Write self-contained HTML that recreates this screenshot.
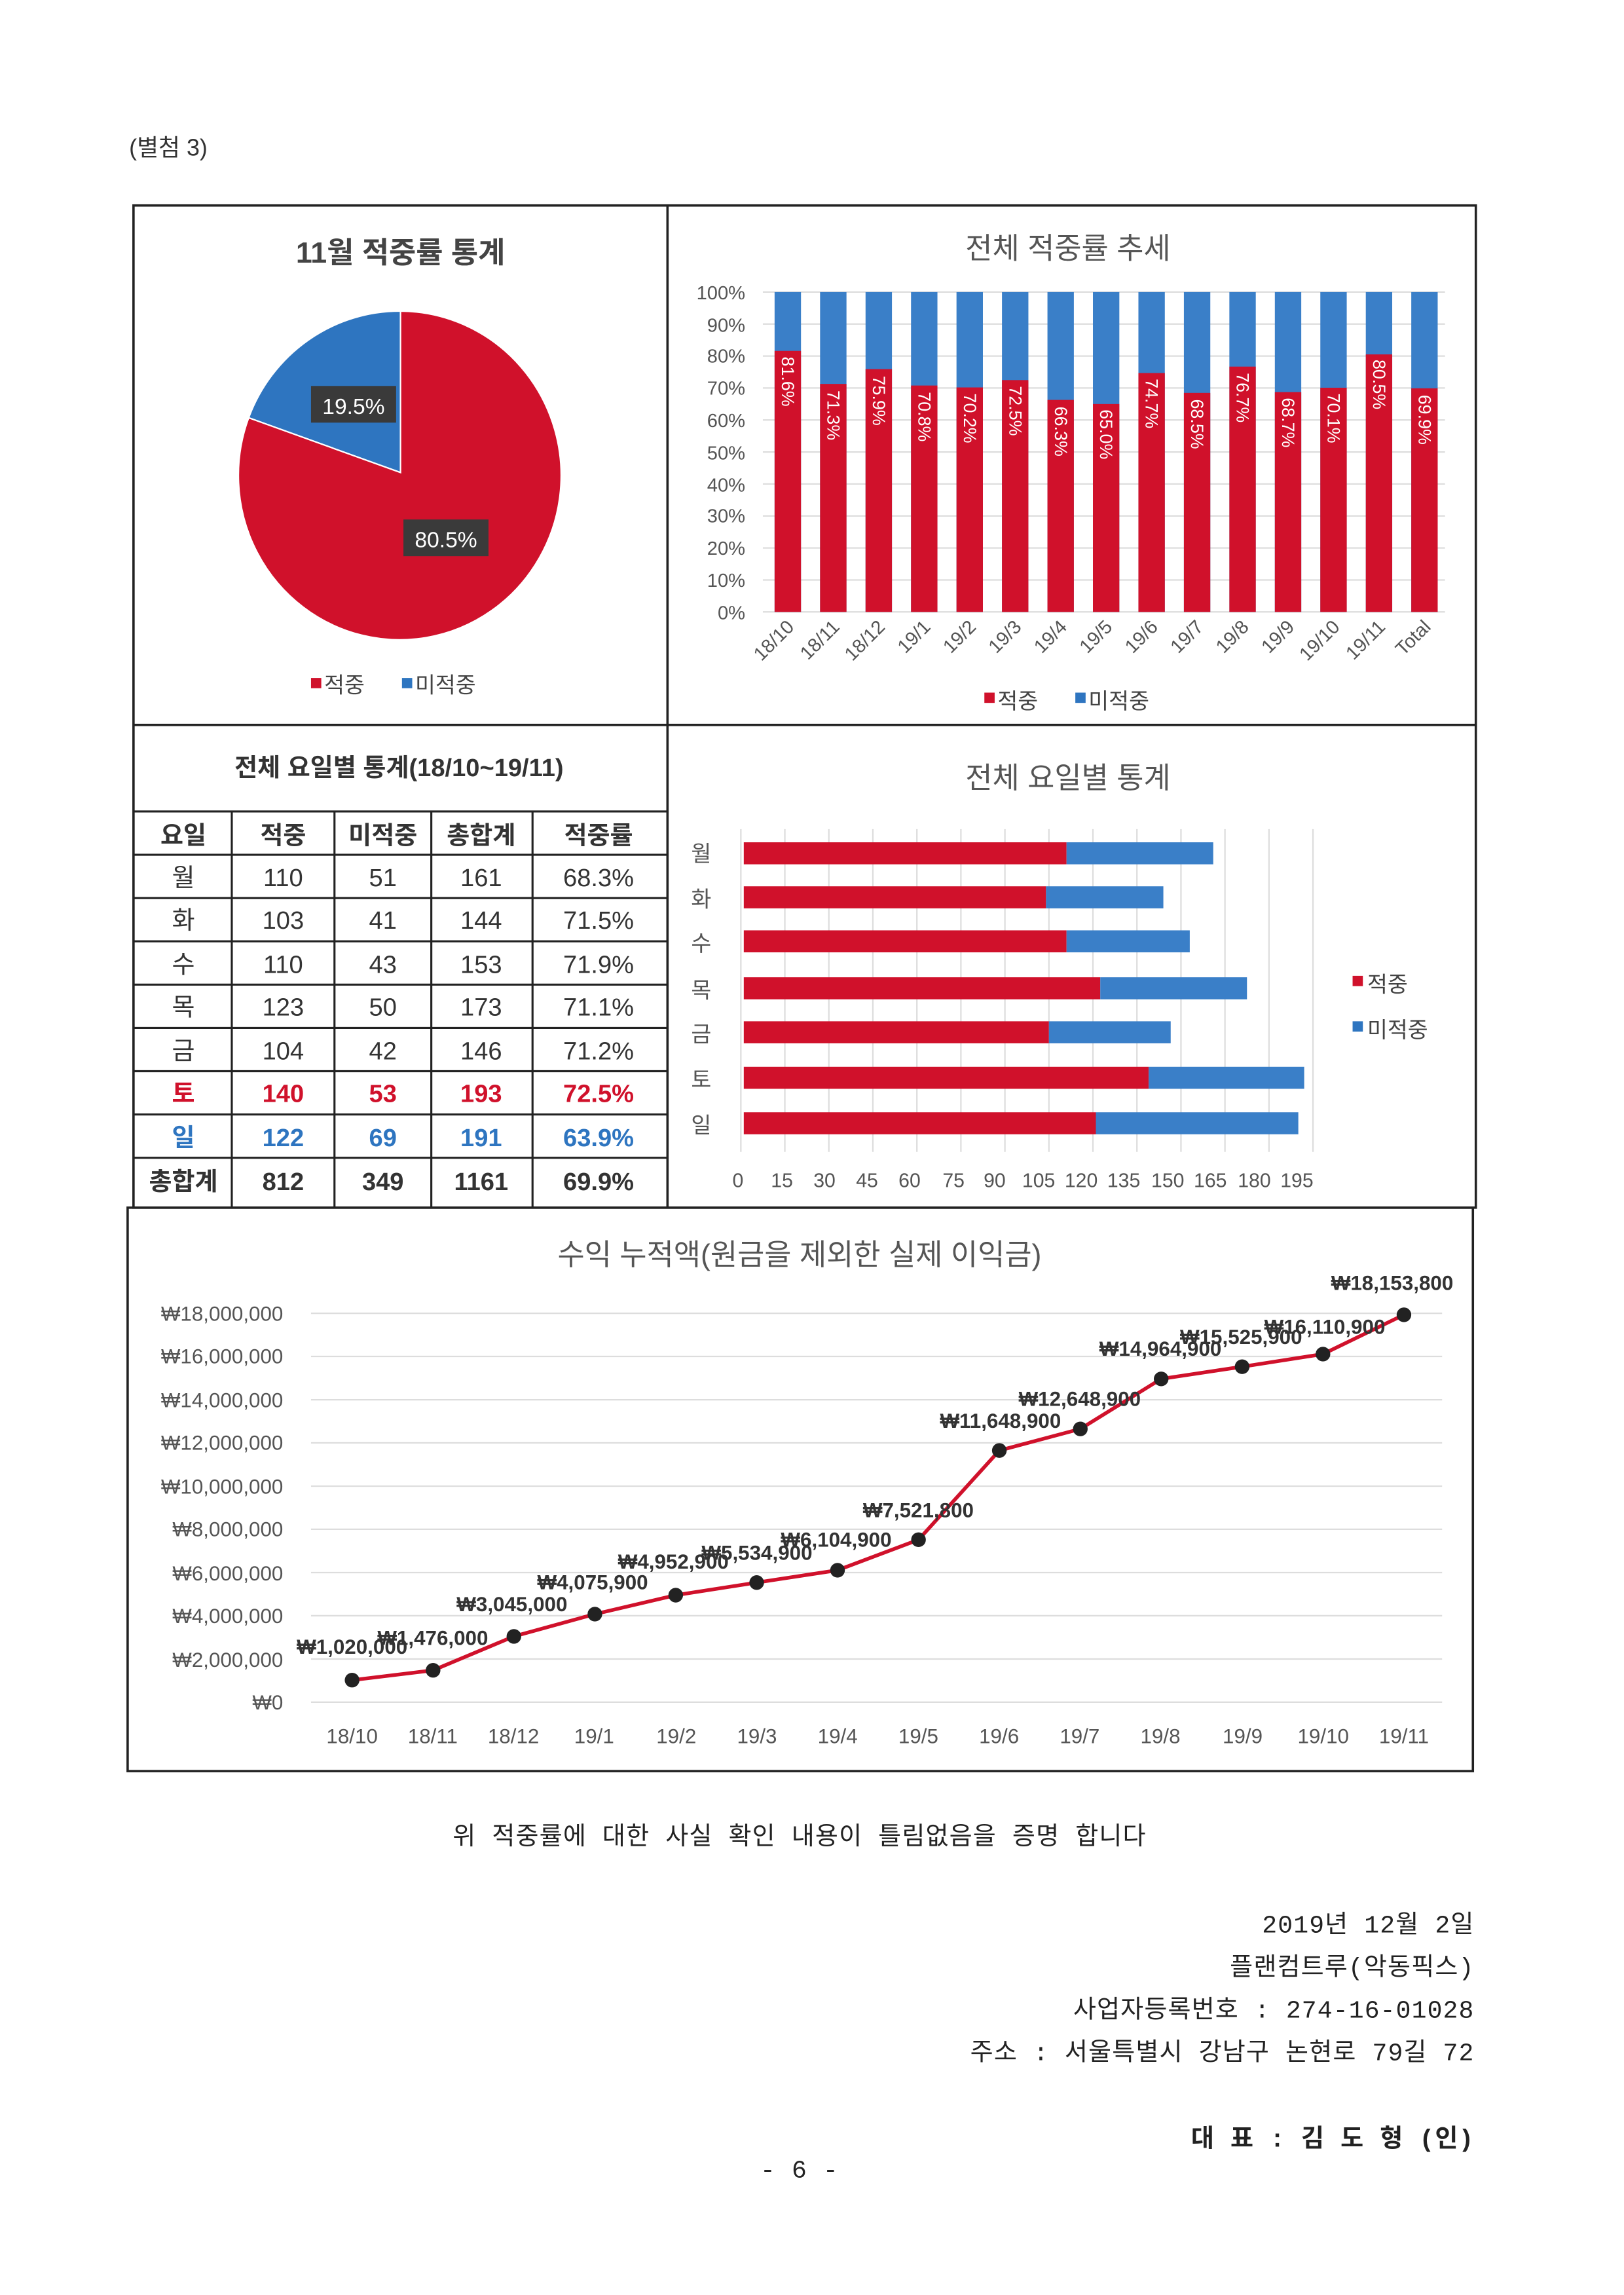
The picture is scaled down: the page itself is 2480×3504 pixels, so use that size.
<!DOCTYPE html>
<html><head><meta charset="utf-8"><style>
html,body{margin:0;padding:0;background:#fff}
svg{display:block}
text{font-family:"Liberation Sans","Noto Sans CJK KR",sans-serif}
.s{font-family:"Liberation Mono","Noto Sans CJK KR",sans-serif;letter-spacing:0.5px}
</style></head><body>
<svg width="2480" height="3504" viewBox="0 0 1107 1564" xmlns="http://www.w3.org/2000/svg">
<rect width="1107" height="1564" fill="#fff"/>
<text x="88" y="106" font-size="16" fill="#333">(별첨 3)</text>
<g fill="none" stroke="#222" stroke-width="1.6">
<rect x="91" y="140" width="915" height="683"/>
<line x1="455" y1="140" x2="455" y2="823"/>
<line x1="91" y1="494" x2="1006" y2="494"/>
<rect x="87" y="823" width="917" height="384"/>
</g>
<text x="273" y="179" font-size="20" font-weight="bold" fill="#444" text-anchor="middle">11월 적중률 통계</text>
<path d="M273,322 L273,212 A110,112 0 0 0 169.5,284.7 Z" fill="#2e75c0" stroke="#fff" stroke-width="1"/>
<path d="M273,322 L169.5,284.7 A110,112 0 1 0 273,212 Z" fill="#d0112b" stroke="#fff" stroke-width="1"/>
<rect x="212" y="263" width="58" height="25" fill="#3a3a3a"/>
<text x="241" y="282" font-size="15" fill="#fff" text-anchor="middle">19.5%</text>
<rect x="275" y="354" width="58" height="25" fill="#3a3a3a"/>
<text x="304" y="373" font-size="15" fill="#fff" text-anchor="middle">80.5%</text>
<rect x="212" y="462" width="7" height="7" fill="#d0112b"/><text x="221" y="472" font-size="15" fill="#444">적중</text>
<rect x="274" y="462" width="7" height="7" fill="#2e75c0"/><text x="283" y="472" font-size="15" fill="#444">미적중</text>
<text x="728" y="176" font-size="20" fill="#555" text-anchor="middle">전체 적중률 추세</text>
<g stroke="#ddd" stroke-width="1">
<line x1="520" y1="199" x2="985" y2="199"/><line x1="520" y1="220.8" x2="985" y2="220.8"/><line x1="520" y1="242.6" x2="985" y2="242.6"/><line x1="520" y1="264.4" x2="985" y2="264.4"/><line x1="520" y1="286.2" x2="985" y2="286.2"/><line x1="520" y1="308" x2="985" y2="308"/><line x1="520" y1="329.8" x2="985" y2="329.8"/><line x1="520" y1="351.6" x2="985" y2="351.6"/><line x1="520" y1="373.4" x2="985" y2="373.4"/><line x1="520" y1="395.2" x2="985" y2="395.2"/><line x1="520" y1="417" x2="985" y2="417"/>
</g>
<g font-size="13" fill="#555" text-anchor="end">
<text x="508" y="204">100%</text><text x="508" y="226">90%</text><text x="508" y="247">80%</text><text x="508" y="269">70%</text><text x="508" y="291">60%</text><text x="508" y="313">50%</text><text x="508" y="335">40%</text><text x="508" y="356">30%</text><text x="508" y="378">20%</text><text x="508" y="400">10%</text><text x="508" y="422">0%</text>
</g>
<g fill="#3a7fc8">
<rect x="528" y="199" width="18" height="218"/><rect x="559" y="199" width="18" height="218"/><rect x="590" y="199" width="18" height="218"/><rect x="621" y="199" width="18" height="218"/><rect x="652" y="199" width="18" height="218"/><rect x="683" y="199" width="18" height="218"/><rect x="714" y="199" width="18" height="218"/><rect x="745" y="199" width="18" height="218"/><rect x="776" y="199" width="18" height="218"/><rect x="807" y="199" width="18" height="218"/><rect x="838" y="199" width="18" height="218"/><rect x="869" y="199" width="18" height="218"/><rect x="900" y="199" width="18" height="218"/><rect x="931" y="199" width="18" height="218"/><rect x="962" y="199" width="18" height="218"/>
</g>
<g fill="#d0112b">
<rect x="528" y="239.1" width="18" height="177.9"/><rect x="559" y="261.6" width="18" height="155.4"/><rect x="590" y="251.5" width="18" height="165.5"/><rect x="621" y="262.7" width="18" height="154.3"/><rect x="652" y="264" width="18" height="153"/><rect x="683" y="259" width="18" height="158"/><rect x="714" y="272.5" width="18" height="144.5"/><rect x="745" y="275.3" width="18" height="141.7"/><rect x="776" y="254.2" width="18" height="162.8"/><rect x="807" y="267.7" width="18" height="149.3"/><rect x="838" y="249.8" width="18" height="167.2"/><rect x="869" y="267.2" width="18" height="149.8"/><rect x="900" y="264.2" width="18" height="152.8"/><rect x="931" y="241.5" width="18" height="175.5"/><rect x="962" y="264.6" width="18" height="152.4"/>
</g>
<g font-size="12" fill="#fff">
<text transform="translate(533,243) rotate(90)">81.6%</text>
<text transform="translate(564,266) rotate(90)">71.3%</text>
<text transform="translate(595,256) rotate(90)">75.9%</text>
<text transform="translate(626,267) rotate(90)">70.8%</text>
<text transform="translate(657,268) rotate(90)">70.2%</text>
<text transform="translate(688,263) rotate(90)">72.5%</text>
<text transform="translate(719,277) rotate(90)">66.3%</text>
<text transform="translate(750,279) rotate(90)">65.0%</text>
<text transform="translate(781,258) rotate(90)">74.7%</text>
<text transform="translate(812,272) rotate(90)">68.5%</text>
<text transform="translate(843,254) rotate(90)">76.7%</text>
<text transform="translate(874,271) rotate(90)">68.7%</text>
<text transform="translate(905,268) rotate(90)">70.1%</text>
<text transform="translate(936,245) rotate(90)">80.5%</text>
<text transform="translate(967,269) rotate(90)">69.9%</text>
</g>
<g font-size="13" fill="#555" text-anchor="end">
<text transform="translate(542,428) rotate(-45)">18/10</text>
<text transform="translate(573,428) rotate(-45)">18/11</text>
<text transform="translate(604,428) rotate(-45)">18/12</text>
<text transform="translate(635,428) rotate(-45)">19/1</text>
<text transform="translate(666,428) rotate(-45)">19/2</text>
<text transform="translate(697,428) rotate(-45)">19/3</text>
<text transform="translate(728,428) rotate(-45)">19/4</text>
<text transform="translate(759,428) rotate(-45)">19/5</text>
<text transform="translate(790,428) rotate(-45)">19/6</text>
<text transform="translate(821,428) rotate(-45)">19/7</text>
<text transform="translate(852,428) rotate(-45)">19/8</text>
<text transform="translate(883,428) rotate(-45)">19/9</text>
<text transform="translate(914,428) rotate(-45)">19/10</text>
<text transform="translate(945,428) rotate(-45)">19/11</text>
<text transform="translate(976,428) rotate(-45)">Total</text>
</g>
<rect x="671" y="472" width="7" height="7" fill="#d0112b"/><text x="680" y="483" font-size="15" fill="#444">적중</text>
<rect x="733" y="472" width="7" height="7" fill="#2e75c0"/><text x="742" y="483" font-size="15" fill="#444">미적중</text>
<text x="272" y="529" font-size="17" font-weight="bold" fill="#333" text-anchor="middle">전체 요일별 통계(18/10~19/11)</text>
<g stroke="#222" stroke-width="1.4" fill="none">
<line x1="91" y1="553" x2="455" y2="553"/><line x1="91" y1="582.5" x2="455" y2="582.5"/><line x1="91" y1="612" x2="455" y2="612"/><line x1="91" y1="641.5" x2="455" y2="641.5"/><line x1="91" y1="671" x2="455" y2="671"/><line x1="91" y1="700.5" x2="455" y2="700.5"/><line x1="91" y1="730" x2="455" y2="730"/><line x1="91" y1="759.5" x2="455" y2="759.5"/><line x1="91" y1="789" x2="455" y2="789"/>
<line x1="158" y1="553" x2="158" y2="823"/><line x1="228" y1="553" x2="228" y2="823"/><line x1="294" y1="553" x2="294" y2="823"/><line x1="363" y1="553" x2="363" y2="823"/>
</g>
<g font-size="17" text-anchor="middle" fill="#333">
<g font-weight="bold"><text x="125" y="575">요일</text><text x="193" y="575">적중</text><text x="261" y="575">미적중</text><text x="328" y="575">총합계</text><text x="408" y="575">적중률</text></g>
<text x="125" y="604">월</text><text x="193" y="604">110</text><text x="261" y="604">51</text><text x="328" y="604">161</text><text x="408" y="604">68.3%</text>
<text x="125" y="633">화</text><text x="193" y="633">103</text><text x="261" y="633">41</text><text x="328" y="633">144</text><text x="408" y="633">71.5%</text>
<text x="125" y="663">수</text><text x="193" y="663">110</text><text x="261" y="663">43</text><text x="328" y="663">153</text><text x="408" y="663">71.9%</text>
<text x="125" y="692">목</text><text x="193" y="692">123</text><text x="261" y="692">50</text><text x="328" y="692">173</text><text x="408" y="692">71.1%</text>
<text x="125" y="722">금</text><text x="193" y="722">104</text><text x="261" y="722">42</text><text x="328" y="722">146</text><text x="408" y="722">71.2%</text>
<g fill="#d0112b" font-weight="bold"><text x="125" y="751">토</text><text x="193" y="751">140</text><text x="261" y="751">53</text><text x="328" y="751">193</text><text x="408" y="751">72.5%</text></g>
<g fill="#2e75c0" font-weight="bold"><text x="125" y="781">일</text><text x="193" y="781">122</text><text x="261" y="781">69</text><text x="328" y="781">191</text><text x="408" y="781">63.9%</text></g>
<g font-weight="bold"><text x="125" y="811">총합계</text><text x="193" y="811">812</text><text x="261" y="811">349</text><text x="328" y="811">1161</text><text x="408" y="811">69.9%</text></g>
</g>
<text x="728" y="537" font-size="20" fill="#555" text-anchor="middle">전체 요일별 통계</text>
<g stroke="#ddd" stroke-width="1">
<line x1="505" y1="565" x2="505" y2="785"/><line x1="535" y1="565" x2="535" y2="785"/><line x1="565" y1="565" x2="565" y2="785"/><line x1="595" y1="565" x2="595" y2="785"/><line x1="625" y1="565" x2="625" y2="785"/><line x1="655" y1="565" x2="655" y2="785"/><line x1="685" y1="565" x2="685" y2="785"/><line x1="715" y1="565" x2="715" y2="785"/><line x1="745" y1="565" x2="745" y2="785"/><line x1="775" y1="565" x2="775" y2="785"/><line x1="805" y1="565" x2="805" y2="785"/><line x1="835" y1="565" x2="835" y2="785"/><line x1="865" y1="565" x2="865" y2="785"/><line x1="895" y1="565" x2="895" y2="785"/>
</g>
<g>
<rect x="507" y="574" width="220" height="15" fill="#d0112b"/><rect x="727" y="574" width="100" height="15" fill="#3a7fc8"/>
<rect x="507" y="604" width="206" height="15" fill="#d0112b"/><rect x="713" y="604" width="80" height="15" fill="#3a7fc8"/>
<rect x="507" y="634" width="220" height="15" fill="#d0112b"/><rect x="727" y="634" width="84" height="15" fill="#3a7fc8"/>
<rect x="507" y="666" width="243" height="15" fill="#d0112b"/><rect x="750" y="666" width="100" height="15" fill="#3a7fc8"/>
<rect x="507" y="696" width="208" height="15" fill="#d0112b"/><rect x="715" y="696" width="83" height="15" fill="#3a7fc8"/>
<rect x="507" y="727" width="276" height="15" fill="#d0112b"/><rect x="783" y="727" width="106" height="15" fill="#3a7fc8"/>
<rect x="507" y="758" width="240" height="15" fill="#d0112b"/><rect x="747" y="758" width="138" height="15" fill="#3a7fc8"/>
</g>
<g font-size="15" fill="#555" text-anchor="middle">
<text x="478" y="587">월</text><text x="478" y="618">화</text><text x="478" y="648">수</text><text x="478" y="680">목</text><text x="478" y="710">금</text><text x="478" y="741">토</text><text x="478" y="772">일</text>
</g>
<g font-size="13.5" fill="#555" text-anchor="middle">
<text x="503" y="809">0</text><text x="533" y="809">15</text><text x="562" y="809">30</text><text x="591" y="809">45</text><text x="620" y="809">60</text><text x="650" y="809">75</text><text x="678" y="809">90</text><text x="708" y="809">105</text><text x="737" y="809">120</text><text x="766" y="809">135</text><text x="796" y="809">150</text><text x="825" y="809">165</text><text x="855" y="809">180</text><text x="884" y="809">195</text>
</g>
<rect x="922" y="665" width="7" height="7" fill="#d0112b"/><text x="932" y="676" font-size="15" fill="#444">적중</text>
<rect x="922" y="696" width="7" height="7" fill="#2e75c0"/><text x="932" y="707" font-size="15" fill="#444">미적중</text>
<text x="545" y="862" font-size="20" fill="#555" text-anchor="middle">수익 누적액(원금을 제외한 실제 이익금)</text>
<g stroke="#ddd" stroke-width="1">
<line x1="212" y1="895" x2="983" y2="895"/><line x1="212" y1="924.4" x2="983" y2="924.4"/><line x1="212" y1="953.9" x2="983" y2="953.9"/><line x1="212" y1="983.3" x2="983" y2="983.3"/><line x1="212" y1="1012.8" x2="983" y2="1012.8"/><line x1="212" y1="1042.2" x2="983" y2="1042.2"/><line x1="212" y1="1071.7" x2="983" y2="1071.7"/><line x1="212" y1="1101.1" x2="983" y2="1101.1"/><line x1="212" y1="1130.6" x2="983" y2="1130.6"/><line x1="212" y1="1160" x2="983" y2="1160"/>
</g>
<g font-size="14" fill="#555" text-anchor="end">
<text x="193" y="900">₩18,000,000</text><text x="193" y="929">₩16,000,000</text><text x="193" y="959">₩14,000,000</text><text x="193" y="988">₩12,000,000</text><text x="193" y="1018">₩10,000,000</text><text x="193" y="1047">₩8,000,000</text><text x="193" y="1077">₩6,000,000</text><text x="193" y="1106">₩4,000,000</text><text x="193" y="1136">₩2,000,000</text><text x="193" y="1165">₩0</text>
</g>
<polyline fill="none" stroke="#d0112b" stroke-width="2.5" points="240,1145 295.2,1138.3 350.3,1115.2 405.5,1100 460.6,1087.1 515.8,1078.5 570.9,1070.1 626.1,1049.3 681.2,988.5 736.4,973.8 791.5,939.7 846.7,931.4 901.8,922.8 957,896"/>
<g fill="#222">
<circle cx="240" cy="1145" r="5"/><circle cx="295.2" cy="1138.3" r="5"/><circle cx="350.3" cy="1115.2" r="5"/><circle cx="405.5" cy="1100" r="5"/><circle cx="460.6" cy="1087.1" r="5"/><circle cx="515.8" cy="1078.5" r="5"/><circle cx="570.9" cy="1070.1" r="5"/><circle cx="626.1" cy="1049.3" r="5"/><circle cx="681.2" cy="988.5" r="5"/><circle cx="736.4" cy="973.8" r="5"/><circle cx="791.5" cy="939.7" r="5"/><circle cx="846.7" cy="931.4" r="5"/><circle cx="901.8" cy="922.8" r="5"/><circle cx="957" cy="896" r="5"/>
</g>
<g font-size="14" font-weight="bold" fill="#333" text-anchor="middle">
<text x="240" y="1127">₩1,020,000</text><text x="295" y="1121">₩1,476,000</text><text x="349" y="1098">₩3,045,000</text><text x="404" y="1083">₩4,075,900</text><text x="459" y="1069">₩4,952,900</text><text x="516" y="1063">₩5,534,900</text><text x="570" y="1054">₩6,104,900</text><text x="626" y="1034">₩7,521,800</text><text x="682" y="973">₩11,648,900</text><text x="736" y="958">₩12,648,900</text><text x="791" y="924">₩14,964,900</text><text x="846" y="916">₩15,525,900</text><text x="903" y="909">₩16,110,900</text><text x="949" y="879">₩18,153,800</text>
</g>
<g font-size="14" fill="#555" text-anchor="middle">
<text x="240" y="1188">18/10</text><text x="295" y="1188">18/11</text><text x="350" y="1188">18/12</text><text x="405" y="1188">19/1</text><text x="461" y="1188">19/2</text><text x="516" y="1188">19/3</text><text x="571" y="1188">19/4</text><text x="626" y="1188">19/5</text><text x="681" y="1188">19/6</text><text x="736" y="1188">19/7</text><text x="791" y="1188">19/8</text><text x="847" y="1188">19/9</text><text x="902" y="1188">19/10</text><text x="957" y="1188">19/11</text>
</g>
<g font-size="17" fill="#222">
<text class="s" x="545" y="1257" text-anchor="middle">위 적중률에 대한 사실 확인 내용이 틀림없음을 증명 합니다</text>
<text class="s" x="1005" y="1317" text-anchor="end">2019년 12월 2일</text>
<text class="s" x="1005" y="1346" text-anchor="end">플랜컴트루(악동픽스)</text>
<text class="s" x="1005" y="1375" text-anchor="end">사업자등록번호 : 274-16-01028</text>
<text class="s" x="1005" y="1404" text-anchor="end">주소 : 서울특별시 강남구 논현로 79길 72</text>
<text class="s" x="1005" y="1463" text-anchor="end" font-weight="bold">대 표 : 김 도 형 (인)</text>
<text class="s" x="545" y="1484" text-anchor="middle">- 6 -</text>
</g>
</svg>
</body></html>
